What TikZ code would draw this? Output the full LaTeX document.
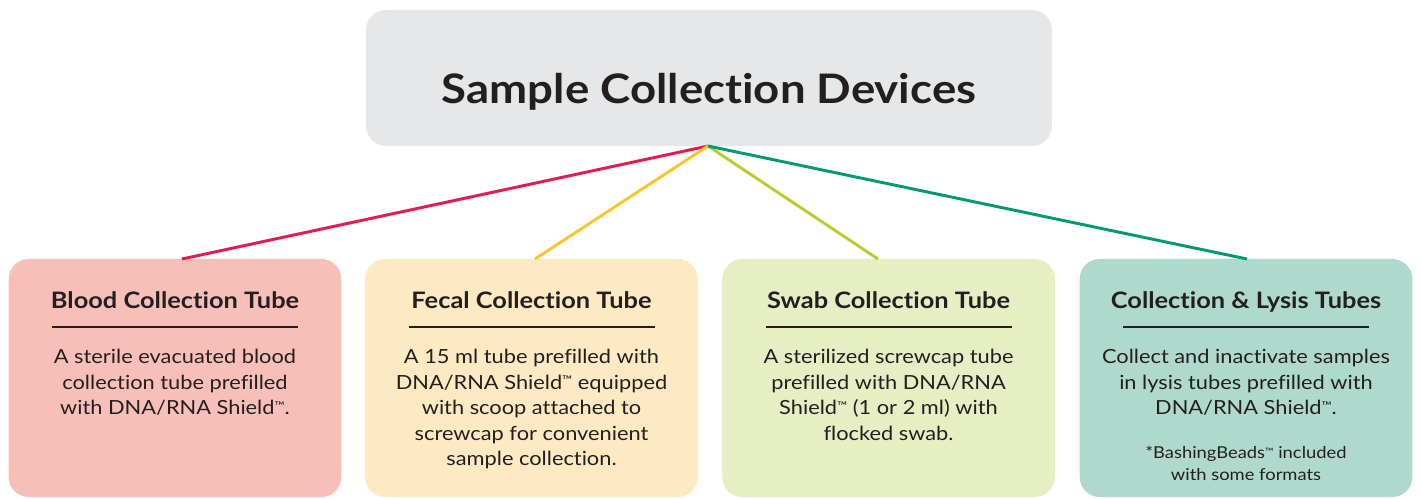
\documentclass[tikz,border=0pt]{standalone}
\usepackage{fontspec}
\setmainfont{Lato}
\newfontfamily\wide{Lato}[FakeStretch=1.12, Ligatures=NoCommon]
\newcommand\tmk{\raisebox{0.22em}{\scalebox{0.62}{™}}}
\definecolor{topfill}{HTML}{E6E7E9}
\definecolor{redfill}{HTML}{F8BFB9}
\definecolor{yelfill}{HTML}{FDEAC2}
\definecolor{limfill}{HTML}{E6EEC4}
\definecolor{grnfill}{HTML}{B0D9CE}
\definecolor{redline}{HTML}{E8194F}
\definecolor{yelline}{HTML}{FBC42B}
\definecolor{limline}{HTML}{B6CE2F}
\definecolor{grnline}{HTML}{009A70}
\definecolor{txt}{HTML}{231F20}
\begin{document}
\begin{tikzpicture}[x=0.75pt,y=-0.75pt,
  card/.style={rounded corners=15pt, minimum width=249.5pt, minimum height=178.5pt, inner sep=0pt, draw=none},
  ttl/.style={font=\wide\fontsize{17}{19}\selectfont\bfseries, text=txt, inner sep=0pt, anchor=base},
  body/.style={font=\wide\fontsize{14.6}{19.1}\selectfont, text=txt, align=center, inner sep=0pt, anchor=north},
  note/.style={font=\wide\fontsize{12.3}{16.5}\selectfont, text=txt, align=center, inner sep=0pt, anchor=north},
  conn/.style={line width=2.2pt},
  rule/.style={line width=0.8pt, draw=txt}]
\useasboundingbox (0,0) rectangle (1422,499);
% top box
\node[rounded corners=15pt, fill=topfill, minimum width=514.5pt, minimum height=102pt, inner sep=0pt] (top) at (709,78) {};
\node[font=\wide\fontsize{30.5}{34}\selectfont\bfseries, text=txt, inner sep=0pt, anchor=base] (toptitle) at (709,104) {Sample Collection Devices};
\coordinate (hub) at (708,146);
% cards
\node[card, fill=redfill] (b1) at (175,378) {};
\node[card, fill=yelfill] (b2) at (531.5,378) {};
\node[card, fill=limfill] (b3) at (888.5,378) {};
\node[card, fill=grnfill] (b4) at (1246,378) {};
% connectors
\coordinate (e1) at (182,259);
\coordinate (e2) at (535,259);
\coordinate (e3) at (878,259);
\coordinate (e4) at (1247,259);
\draw[conn, redline] (hub) -- (e1);
\draw[conn, yelline] (hub) -- (e2);
\draw[conn, limline] (hub) -- (e3);
\draw[conn, grnline] (hub) -- (e4);
% titles
\node[ttl] (t1) at (175,308) {Blood Collection Tube};
\node[ttl] (t2) at (531.5,308) {Fecal Collection Tube};
\node[ttl] (t3) at (888.5,308) {Swab Collection Tube};
\node[ttl] (t4) at (1246,308) {Collection \& Lysis Tubes};
% rules
\foreach \c/\n in {175/1,531.5/2,888.5/3,1246/4}{
  \draw[rule] (\c-123,327) -- (\c+123,327);
}
% bodies
\node[body] (d1) at (175,349) {A sterile evacuated blood\\collection tube prefilled\\with DNA/RNA Shield\tmk.};
\node[body] (d2) at (531.5,349) {A 15 ml tube prefilled with\\DNA/RNA Shield\tmk{} equipped\\with scoop attached to\\screwcap for convenient\\sample collection.};
\node[body] (d3) at (888.5,349) {A sterilized screwcap tube\\prefilled with DNA/RNA\\Shield\tmk{} (1 or 2 ml) with\\flocked swab.};
\node[body] (d4) at (1246,349) {Collect and inactivate samples\\in lysis tubes prefilled with\\DNA/RNA Shield\tmk.};
\node[note] (n4) at (1246,446) {*BashingBeads\tmk{} included\\with some formats};
\end{tikzpicture}
\end{document}
